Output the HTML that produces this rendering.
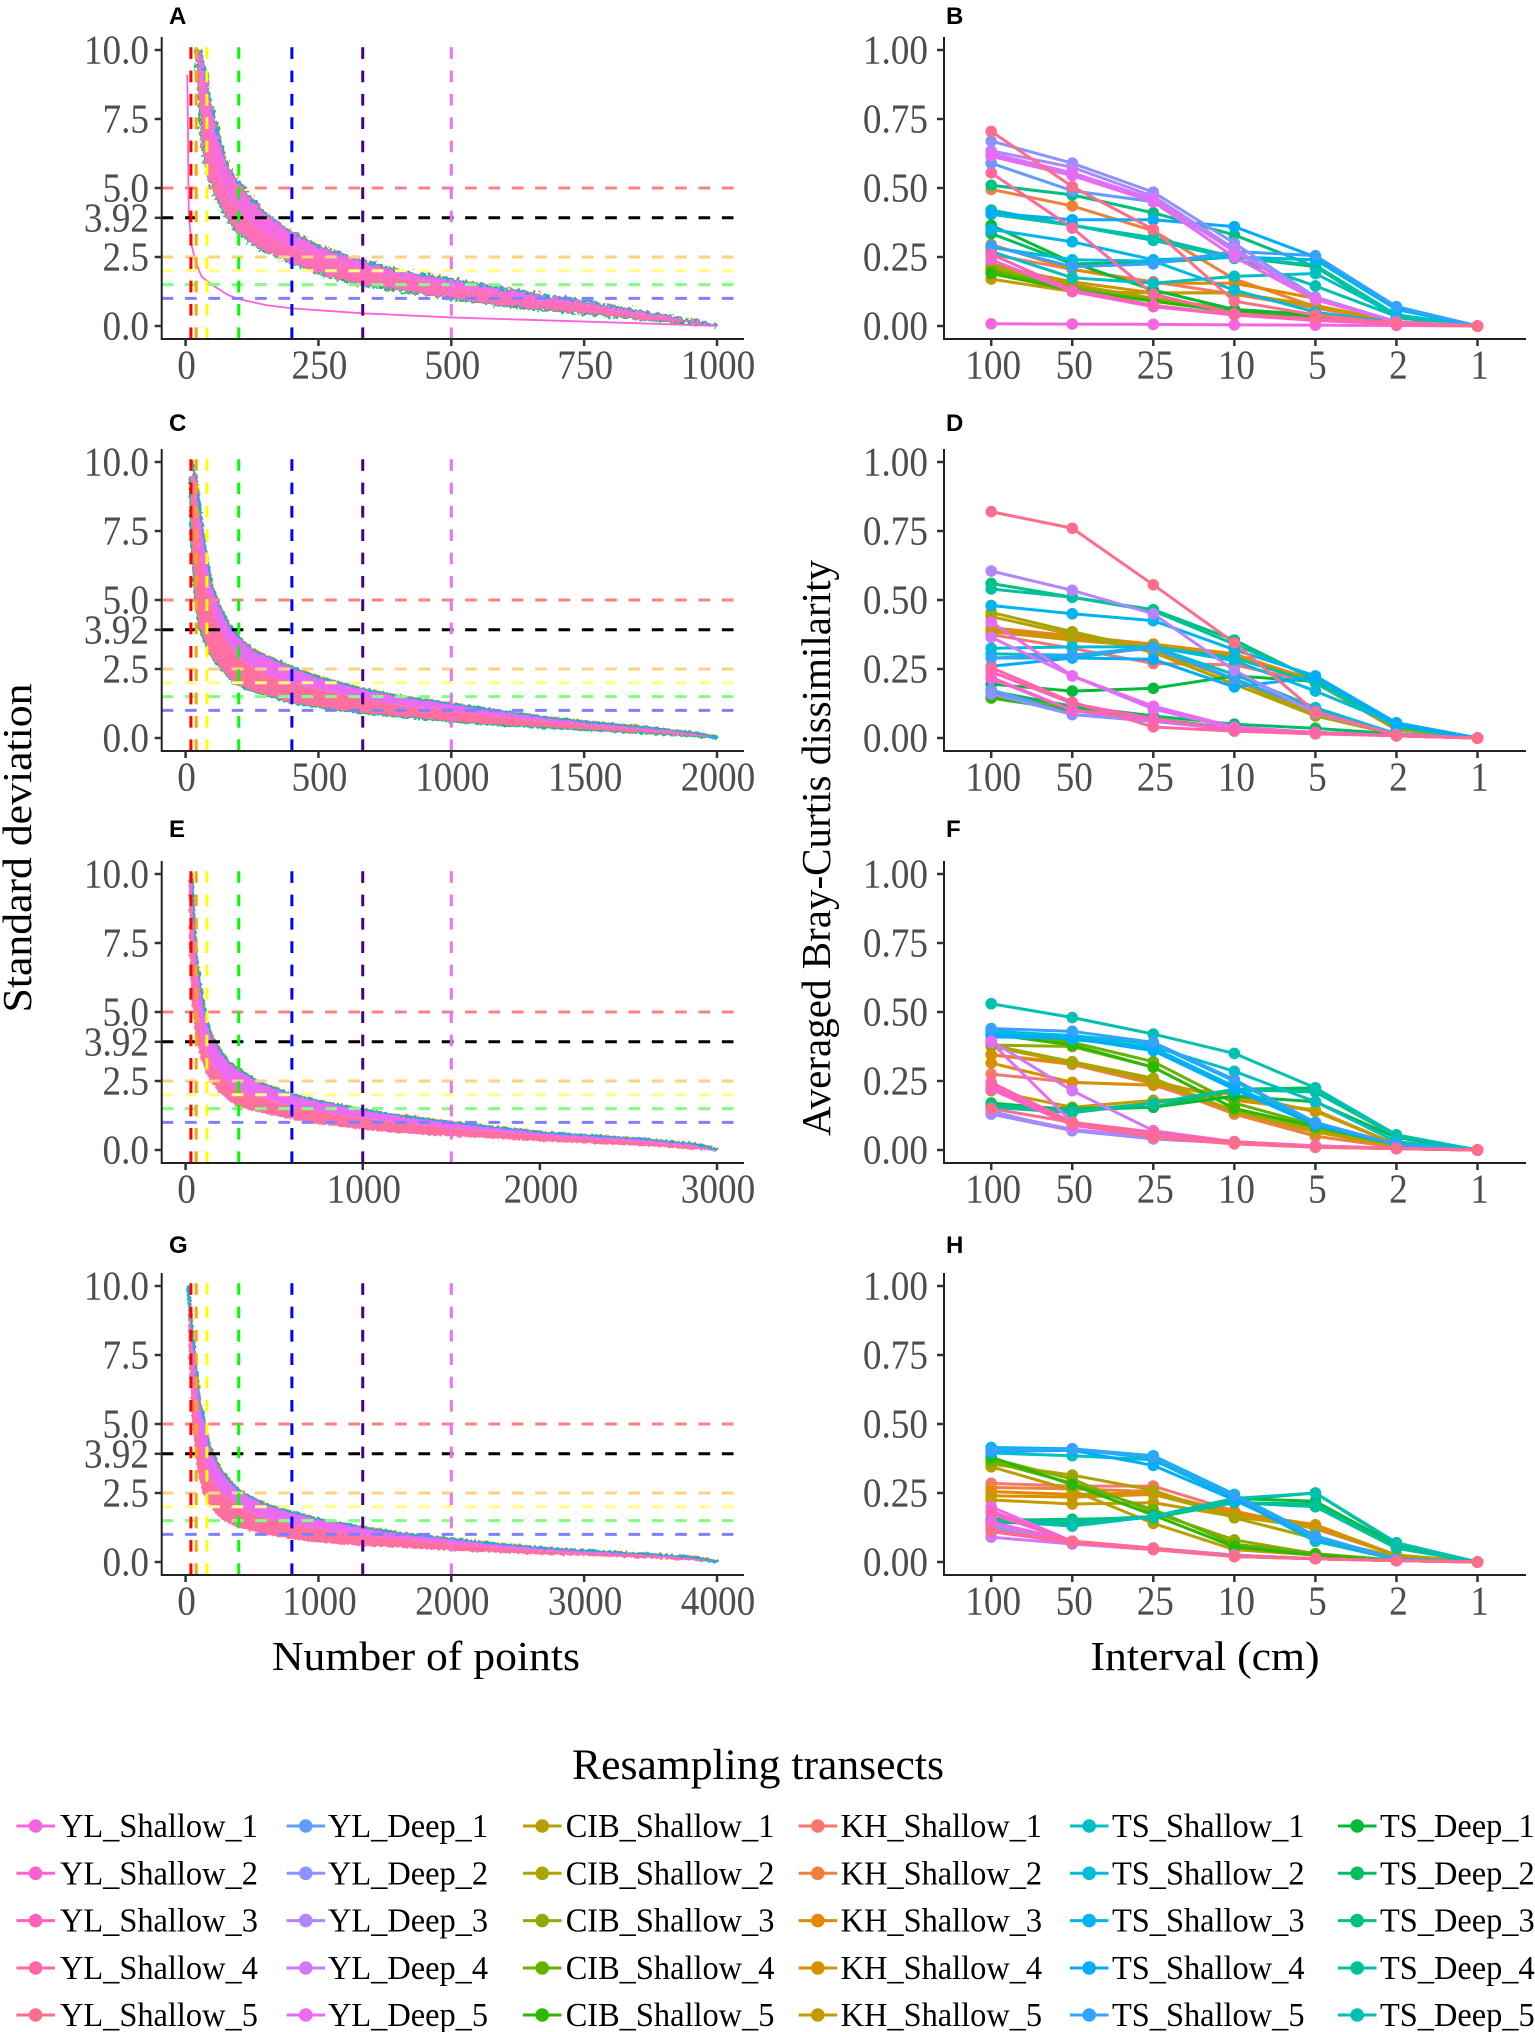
<!DOCTYPE html>
<html lang="en">
<head>
<meta charset="utf-8">
<title>Resampling transects</title>
<style>
html,body{margin:0;padding:0;background:#fff;width:1535px;height:2032px;overflow:hidden}
svg{display:block;font-family:"Liberation Serif",serif}
.panel-tag{font-family:"Liberation Sans",sans-serif;font-weight:700;font-size:24px;fill:#000}
.title{font-size:41px;fill:#000}
</style>
</head>
<body>
<svg id="figure" xmlns="http://www.w3.org/2000/svg" width="1535" height="2032" viewBox="0 0 1535 2032">
  <defs>
    <filter id="jag-strong" filterUnits="userSpaceOnUse" x="150" y="0" width="620" height="2032" color-interpolation-filters="sRGB">
      <feTurbulence type="fractalNoise" baseFrequency="0.28 0.28" numOctaves="2" seed="4" result="n"/>
      <feDisplacementMap in="SourceGraphic" in2="n" scale="9" xChannelSelector="R" yChannelSelector="G"/>
    </filter>
    <filter id="jag-soft" filterUnits="userSpaceOnUse" x="150" y="0" width="620" height="2032" color-interpolation-filters="sRGB">
      <feTurbulence type="fractalNoise" baseFrequency="0.35 0.35" numOctaves="2" seed="9" result="n"/>
      <feDisplacementMap in="SourceGraphic" in2="n" scale="4" xChannelSelector="R" yChannelSelector="G"/>
    </filter>
  </defs>
  <text class="panel-tag" x="169" y="24">A</text>
  <text class="panel-tag" x="946" y="24">B</text>
  <text class="panel-tag" x="169" y="431">C</text>
  <text class="panel-tag" x="946" y="431">D</text>
  <text class="panel-tag" x="169" y="837">E</text>
  <text class="panel-tag" x="946" y="837">F</text>
  <text class="panel-tag" x="169" y="1253">G</text>
  <text class="panel-tag" x="946" y="1253">H</text>
  <text class="title" transform="translate(31,848) rotate(-90)" text-anchor="middle" textLength="329" lengthAdjust="spacingAndGlyphs">Standard deviation</text>
  <text class="title" transform="translate(830,848) rotate(-90)" text-anchor="middle" textLength="576" lengthAdjust="spacingAndGlyphs">Averaged Bray-Curtis dissimilarity</text>
  <text class="title" x="426" y="1670" text-anchor="middle" textLength="308" lengthAdjust="spacingAndGlyphs">Number of points</text>
  <text class="title" x="1205" y="1670" text-anchor="middle" textLength="229" lengthAdjust="spacingAndGlyphs">Interval (cm)</text>
  <text x="758" y="1779" text-anchor="middle" font-size="43.5" fill="#000" textLength="372" lengthAdjust="spacingAndGlyphs">Resampling transects</text>
</svg>
<script>
// ---------- Category data ----------
const intervalLabels = ['100','50','25','10','5','2','1'];
const legendColumns = ['YL_Shallow','YL_Deep','CIB_Shallow','KH_Shallow','TS_Shallow','TS_Deep'];
const drawOrder = ['KH_Shallow','CIB_Shallow','TS_Deep','TS_Shallow','YL_Deep','YL_Shallow'];
const colorsKH = ['#F8766D','#EC8239','#E38900','#D69100','#C49A00'];
const colorsCIB = ['#B79F00','#A9A400','#8DAB00','#66B200','#2CB700'];
const colorsTSDeep = ['#00BA38','#00BD5F','#00C07F','#00C19C','#00C0B0'];
const colorsTSShallow = ['#00BFC4','#00BBDC','#00B4EF','#00ACFC','#35A2FF'];
const colorsYLDeep = ['#619CFF','#8C93FF','#B385FF','#D575FE','#EA6AF1'];
const colorsYLShallow = ['#F564E3','#FE61CF','#FF62BC','#FF67A4','#FE6E8A'];

// ---------- Reference lines ----------
const verticalDivisors = [100,50,25,10,5,3,2];
const verticalColors = ['#ff0000','#ffa500','#ffff00','#00ff00','#0000ff','#4b0082','#ee70ee'];
const horizontalSD = [5,2.5,2,1.5,1,3.92];
const horizontalColors = ['#ff8080','#ffd280','#ffff80','#80ff80','#8080ff','#000000'];
const sdTicks = [0,2.5,3.92,5,7.5,10];
const sdTickLabels = ['0.0','2.5','3.92','5.0','7.5','10.0'];
const brayTicks = [0,0.25,0.5,0.75,1];
const brayTickLabels = ['0.00','0.25','0.50','0.75','1.00'];

// ---------- Panel A ----------
const aMax = 1000;
const aTicks = [0,250,500,750,1000];
const aUpperN = [19,30,40,47,63,81,100,119,147,200,250,333,400,500,587,680,750,868,962,1000];
const aUpperSD = [10,9.8,8.73,8.07,6.74,5.65,5.17,4.69,4.08,3.36,2.87,2.33,1.97,1.67,1.36,1.06,0.88,0.46,0.16,0];
const aMidN = [25,40,60,80,100,150,200,250,333,400,500,587,680,750,868,962,1000];
const aMidSD = [9.5,7.5,5.6,4.7,4.2,3.3,2.9,2.5,2.05,1.75,1.45,1.15,0.9,0.75,0.4,0.12,0];
const aLowerN = [19,25,30,37,49,63,81,100,138,200,259,333,400,500,587,680,750,868,962,1000];
const aLowerSD = [10,8.2,6.74,5.9,5.05,4.44,3.78,3.36,2.81,2.27,1.85,1.49,1.3,1,0.76,0.58,0.46,0.22,0.06,0];
const aOutlierN = [3,4,5,6,8,12,20,30,50,80,100,150,200,333,500,750,900,1000];
const aOutlierSD = [9.1,8,5.77,4.08,3.6,2.87,2.27,1.79,1.49,1.12,0.98,0.76,0.64,0.46,0.31,0.16,0.07,0];

// ---------- Panel C ----------
const cMax = 2000;
const cTicks = [0,500,1000,1500,2000];
const cUpperN = [22,41,50,69,97,125,163,200,257,400,500,669,800,1005,1174,1361,1502,1736,1923,2000];
const cUpperSD = [10,9.24,8.39,7.07,5.5,4.77,4.05,3.62,3.14,2.54,2.17,1.75,1.49,1.21,0.97,0.72,0.57,0.36,0.16,0];
const cMidN = [30,50,80,125,200,300,400,500,669,800,1005,1174,1361,1502,1736,1923,2000];
const cMidSD = [9.5,7,5.4,3.9,2.9,2.3,2,1.78,1.4,1.2,0.97,0.78,0.6,0.47,0.29,0.12,0];
const cLowerN = [17,22,36,50,88,125,182,238,400,612,669,1005,1174,1502,1736,1923,2000];
const cLowerSD = [9.5,7.07,5.13,4.05,3.08,2.6,1.99,1.75,1.27,0.97,0.9,0.6,0.48,0.3,0.18,0.06,0];

// ---------- Panel E ----------
const eMax = 3000;
const eTicks = [0,1000,2000,3000];
const eUpperN = [34,48,62,90,118,146,188,244,300,413,601,750,1003,1199,1508,1761,2042,2253,2604,2885,3000];
const eUpperSD = [10,8,6.76,5.56,4.59,4.1,3.62,3.14,2.9,2.42,1.99,1.75,1.43,1.23,0.97,0.79,0.6,0.51,0.36,0.18,0];
const eMidN = [30,45,70,100,150,244,357,601,750,1003,1199,1508,1761,2042,2253,2604,2885,3000];
const eMidSD = [9.5,7,5,3.9,3.1,2.4,2,1.58,1.4,1.15,1,0.8,0.66,0.5,0.42,0.28,0.12,0];
const eLowerN = [25,28,42,62,90,132,188,272,357,601,750,1003,1199,1508,1761,2042,2253,2604,2885,3000];
const eLowerSD = [9.9,7.1,5.3,4.2,3.38,2.66,2.17,1.69,1.51,1.15,0.99,0.79,0.66,0.54,0.46,0.34,0.3,0.18,0.06,0];

// ---------- Panel G ----------
const gMax = 4000;
const gTicks = [0,1000,2000,3000,4000];
const gUpperN = [19,45,71,101,139,176,251,326,401,588,802,1000,1337,1600,2011,2348,2723,3004,3472,3846,4000];
const gUpperSD = [10,8.4,7.2,5.82,5.04,4.19,3.4,2.92,2.56,2.08,1.78,1.53,1.23,1.03,0.81,0.63,0.47,0.39,0.27,0.14,0];
const gMidN = [30,50,80,110,176,251,401,588,802,1000,1337,1600,2011,2348,2723,3004,3472,3846,4000];
const gMidSD = [9.5,7,5.1,4.2,3.1,2.6,2,1.62,1.38,1.2,0.98,0.85,0.66,0.52,0.39,0.32,0.22,0.11,0];
const gLowerN = [26,37,64,101,139,213,288,401,588,802,1000,1337,1600,2011,2348,2723,3004,3472,3846,4000];
const gLowerSD = [9.6,7.2,4.8,3.22,2.5,1.9,1.53,1.29,1.05,0.87,0.75,0.63,0.57,0.45,0.39,0.3,0.27,0.18,0.08,0];

// ---------- Panel B dissimilarity (rows in drawOrder, 5 per group) ----------
const panelBValues = [
[.26,.205,.16,.115,.065,.012,0],[.495,.435,.345,.17,.07,.015,0],[.295,.205,.155,.155,.10,.015,0],[.22,.16,.12,.12,.075,.015,0],[.17,.125,.12,.12,.07,.015,0],
[.225,.15,.10,.06,.04,.01,0],[.215,.145,.10,.06,.04,.01,0],[.205,.14,.095,.055,.04,.01,0],[.20,.135,.09,.055,.04,.01,0],[.19,.13,.09,.05,.035,.01,0],
[.365,.23,.13,.06,.04,.015,0],[.335,.225,.23,.25,.215,.04,0],[.51,.475,.41,.33,.215,.03,0],[.42,.365,.32,.25,.22,.04,0],[.405,.365,.31,.245,.145,.035,0],
[.27,.175,.155,.18,.19,.04,0],[.285,.24,.235,.13,.05,.012,0],[.35,.305,.24,.25,.24,.06,0],[.41,.385,.385,.36,.25,.07,0],[.29,.215,.225,.27,.255,.07,0],
[.59,.49,.45,.275,.10,.015,0],[.67,.59,.485,.30,.105,.015,0],[.635,.575,.47,.28,.10,.015,0],[.625,.555,.46,.27,.10,.015,0],[.615,.545,.45,.25,.095,.015,0],
[.008,.007,.006,.004,.003,.002,0],[.24,.125,.07,.04,.02,.008,0],[.26,.13,.075,.04,.025,.008,0],[.555,.355,.115,.045,.025,.01,0],[.705,.505,.35,.09,.04,.01,0]
];
// ---------- Panel D ----------
const panelDValues = [
[.375,.325,.27,.265,.20,.03,0],[.40,.37,.34,.30,.21,.035,0],[.395,.365,.34,.305,.205,.035,0],[.39,.36,.335,.295,.205,.03,0],[.385,.355,.33,.29,.20,.03,0],
[.44,.375,.31,.195,.08,.012,0],[.455,.385,.32,.21,.085,.012,0],[.15,.105,.07,.033,.02,.008,0],[.16,.11,.07,.035,.02,.008,0],[.145,.10,.065,.03,.02,.008,0],
[.195,.17,.18,.225,.205,.05,0],[.17,.115,.08,.05,.035,.015,0],[.56,.51,.465,.355,.21,.055,0],[.54,.51,.46,.34,.215,.05,0],[.29,.29,.33,.29,.2,.04,0],
[.305,.30,.33,.23,.11,.015,0],[.325,.33,.33,.28,.17,.05,0],[.48,.45,.425,.32,.225,.055,0],[.26,.29,.285,.185,.22,.05,0],[.29,.30,.325,.215,.10,.015,0],
[.175,.085,.065,.035,.02,.008,0],[.16,.085,.06,.03,.02,.008,0],[.605,.535,.45,.245,.09,.012,0],[.365,.225,.105,.035,.02,.008,0],[.42,.225,.115,.04,.02,.008,0],
[.215,.10,.065,.03,.018,.008,0],[.22,.10,.065,.03,.02,.008,0],[.24,.125,.07,.03,.02,.008,0],[.255,.13,.04,.025,.015,.008,0],[.82,.76,.555,.345,.095,.01,0]
];
// ---------- Panel F ----------
const panelFValues = [
[.275,.245,.235,.145,.05,.01,0],[.345,.31,.24,.13,.05,.01,0],[.345,.315,.25,.18,.145,.02,0],[.315,.245,.235,.20,.14,.02,0],[.215,.155,.18,.19,.14,.02,0],
[.375,.315,.25,.14,.065,.015,0],[.38,.32,.26,.14,.075,.02,0],[.38,.375,.30,.15,.08,.02,0],[.43,.39,.32,.17,.09,.02,0],[.42,.38,.30,.15,.085,.02,0],
[.17,.145,.155,.195,.175,.045,0],[.16,.15,.155,.22,.225,.05,0],[.165,.14,.17,.215,.215,.05,0],[.155,.135,.17,.22,.21,.05,0],[.53,.48,.42,.35,.225,.055,0],
[.435,.40,.375,.285,.175,.03,0],[.43,.415,.385,.25,.10,.02,0],[.42,.41,.37,.23,.095,.02,0],[.41,.405,.36,.22,.09,.02,0],[.44,.43,.39,.255,.10,.02,0],
[.14,.07,.045,.025,.015,.005,0],[.13,.07,.04,.025,.015,.005,0],[.135,.075,.045,.025,.012,.005,0],[.395,.215,.07,.03,.015,.006,0],[.39,.10,.06,.03,.015,.006,0],
[.24,.10,.05,.025,.012,.005,0],[.23,.095,.05,.025,.012,.005,0],[.22,.09,.05,.025,.012,.005,0],[.245,.10,.065,.03,.01,.005,0],[.15,.10,.045,.022,.01,.005,0]
];
// ---------- Panel H ----------
const panelHValues = [
[.285,.275,.275,.185,.12,.025,0],[.27,.265,.255,.17,.13,.025,0],[.255,.245,.25,.18,.135,.025,0],[.24,.235,.245,.17,.13,.025,0],[.225,.21,.215,.165,.125,.025,0],
[.345,.26,.14,.045,.025,.005,0],[.355,.315,.26,.16,.085,.02,0],[.375,.30,.18,.08,.03,.006,0],[.365,.285,.19,.065,.03,.006,0],[.38,.28,.17,.055,.025,.006,0],
[.145,.135,.165,.23,.22,.06,0],[.155,.15,.165,.225,.25,.065,0],[.15,.155,.16,.215,.21,.055,0],[.15,.145,.165,.215,.20,.05,0],[.15,.13,.165,.23,.25,.07,0],
[.395,.385,.37,.23,.075,.01,0],[.41,.41,.385,.245,.095,.01,0],[.415,.41,.375,.235,.085,.01,0],[.40,.405,.35,.225,.085,.01,0],[.405,.41,.38,.24,.09,.01,0],
[.125,.07,.05,.025,.012,.005,0],[.13,.07,.05,.025,.012,.005,0],[.135,.07,.05,.025,.012,.005,0],[.09,.065,.045,.02,.012,.005,0],[.20,.075,.05,.022,.012,.005,0],
[.145,.075,.05,.022,.012,.005,0],[.175,.075,.05,.022,.012,.005,0],[.185,.075,.05,.02,.012,.005,0],[.11,.07,.045,.02,.012,.005,0],[.115,.075,.05,.02,.012,.005,0]
];

const NS = 'http://www.w3.org/2000/svg';
const fig = document.getElementById('figure');
const groupColors = {KH_Shallow:colorsKH,CIB_Shallow:colorsCIB,TS_Deep:colorsTSDeep,TS_Shallow:colorsTSShallow,YL_Deep:colorsYLDeep,YL_Shallow:colorsYLShallow};

function make(tag, parent, attrs, text){
  const el = document.createElementNS(NS, tag);
  for (const k in attrs) el.setAttribute(k, attrs[k]);
  if (text !== undefined) el.textContent = text;
  parent.appendChild(el);
  return el;
}
function polyPoints(ns, vals, sx, sy){
  return ns.map((n,i)=>sx(n).toFixed(2)+','+sy(vals[i]).toFixed(2));
}
const TICK_FONT = 38;
const TICK_COL = '#4d4d4d';
const TICK_STRETCH = 'scale(0.98,1.08)';

function drawAxes(g, left, right, top, sx, sy, yVals, yLabs, xVals, xLabs, labelRight, xOffset){
  const bottom = top + 302;
  const ya = make('line', g, {x1:left,x2:left,y1:top,y2:bottom+1,stroke:'#222',"stroke-width":2});
  
  
  const xa = make('line', g, {x1:left,x2:right,y1:bottom,y2:bottom,stroke:'#222',"stroke-width":2});
  
  
  yVals.forEach((v,i)=>{
    const t = make('line', g, {x1:left-7,x2:left,y1:sy(v),y2:sy(v),stroke:'#333',"stroke-width":2.5});
    
    
    const l = make('text', g, {transform:'translate('+labelRight+','+(sy(v)+13.5)+') '+TICK_STRETCH,"text-anchor":'end',"font-size":TICK_FONT,fill:TICK_COL}, yLabs[i]);
    
    
  });
  xVals.forEach((v,i)=>{
    const x = sx(v);
    const t = make('line', g, {x1:x,x2:x,y1:bottom,y2:bottom+7,stroke:'#333',"stroke-width":2.5});
    
    
    const l = make('text', g, {transform:'translate('+(x+xOffset)+','+(bottom+39.5)+') '+TICK_STRETCH,"text-anchor":'middle',"font-size":TICK_FONT,fill:TICK_COL}, xLabs[i]);
    
    
  });
}

function drawSdPanel(name, top, maxN, ticks, upN, upV, midN, midV, loN, loV, opts){
  const g = make('g', fig, {});
  
  
  const sx = v => 185.6 + v / maxN * 531.4;
  const sy = v => top + 289 - v * 27.6;
  const left = 161.7, right = 744, bottom = top + 302;

  const band = make('g', g, {filter:'url(#' + opts.filter + ')'});
  
  
  const up = polyPoints(upN, upV, sx, sy);
  const mid = polyPoints(midN, midV, sx, sy);
  const lo = polyPoints(loN, loV, sx, sy);
  const orangeEdge = make('polyline', band, {points:up.join(' '),fill:'none',stroke:'#de8c00',"stroke-width":2,transform:'translate(1,-1)'});
  
  
  const lowEdge = make('polyline', band, {points:lo.join(' '),fill:'none',stroke:opts.lowerStroke,"stroke-width":2.5});
  
  
  const upEdge = make('polyline', band, {points:up.join(' '),fill:'none',stroke:'#00b4ef',"stroke-width":3});
  
  
  const upperFill = make('polygon', band, {points:up.concat(mid.slice().reverse()).join(' '),fill:opts.upperFill});
  
  
  const lowerFill = make('polygon', band, {points:mid.concat(lo.slice().reverse()).join(' '),fill:opts.lowerFill});
  
  

  if (opts.outlierN){
    const o = make('polyline', g, {points:polyPoints(opts.outlierN, opts.outlierSD, sx, sy).join(' '),fill:'none',stroke:'#fb62da',"stroke-width":1.8});
    
    
  }

  horizontalSD.forEach((v,i)=>{
    const h = make('line', g, {x1:left,x2:right,y1:sy(v),y2:sy(v),stroke:horizontalColors[i],"stroke-width":3,"stroke-dasharray":'11.67 11.67'});
    
    
  });
  verticalDivisors.forEach((d,i)=>{
    const x = sx(maxN / d);
    const v = make('line', g, {x1:x,x2:x,y1:bottom,y2:top,stroke:verticalColors[i],"stroke-width":3,"stroke-dasharray":'11.67 11.67'});
    
    
  });
  drawAxes(g, left, right, top, sx, sy, sdTicks, sdTickLabels, ticks, ticks.map(String), 149, 1);
}

function drawBrayPanel(name, top, values){
  const g = make('g', fig, {});
  
  
  const sx = i => 991.2 + i * 81.05;
  const sy = v => top + 289 - v * 276;
  const flat = [];
  drawOrder.forEach(gr => groupColors[gr].forEach(c => flat.push(c)));
  values.forEach((row,s)=>{
    const pts = row.map((v,i)=>sx(i).toFixed(2)+','+sy(v).toFixed(2)).join(' ');
    const l = make('polyline', g, {points:pts,fill:'none',stroke:flat[s],"stroke-width":3,"stroke-linejoin":'round'});
    
    
  });
  values.forEach((row,s)=>{
    row.forEach((v,i)=>{
      const c = make('circle', g, {cx:sx(i),cy:sy(v),r:5.8,fill:flat[s]});
      
      
    });
  });
  drawAxes(g, 944, 1526, top, sx, sy, brayTicks, brayTickLabels, intervalLabels.map((_,i)=>i), intervalLabels, 928, 2);
}

drawSdPanel('a', 37, aMax, aTicks, aUpperN, aUpperSD, aMidN, aMidSD, aLowerN, aLowerSD,
  {filter:'jag-strong',upperFill:'#f56be0',lowerFill:'#ff6fb8',lowerStroke:'#00bd6a',outlierN:aOutlierN,outlierSD:aOutlierSD});
drawSdPanel('c', 449, cMax, cTicks, cUpperN, cUpperSD, cMidN, cMidSD, cLowerN, cLowerSD,
  {filter:'jag-soft',upperFill:'#ea6af1',lowerFill:'#ff6fa0',lowerStroke:'#00c08a'});
drawSdPanel('e', 861, eMax, eTicks, eUpperN, eUpperSD, eMidN, eMidSD, eLowerN, eLowerSD,
  {filter:'jag-soft',upperFill:'#ea6af1',lowerFill:'#ff6fa0',lowerStroke:'#ff6fa0'});
drawSdPanel('g', 1273, gMax, gTicks, gUpperN, gUpperSD, gMidN, gMidSD, gLowerN, gLowerSD,
  {filter:'jag-soft',upperFill:'#ea6af1',lowerFill:'#ff6fa0',lowerStroke:'#ff6fa0'});

drawBrayPanel('b', 37, panelBValues);
drawBrayPanel('d', 449, panelDValues);
drawBrayPanel('f', 861, panelFValues);
drawBrayPanel('h', 1273, panelHValues);

// ---------- Legend ----------
const legendKeyLeft = [16.4,286.6,523,798.6,1070,1338];
const legendTextLeft = [60,328,565.7,840.6,1112,1380];
const legendRowY = [1826,1873.3,1920.6,1968,2015];
const legend = make('g', fig, {});


legendColumns.forEach((gr,c)=>{
  legendRowY.forEach((y,r)=>{
    const color = groupColors[gr][r];
    const entry = make('g', legend, {});
    
    
    const kl = make('line', entry, {x1:legendKeyLeft[c],x2:legendKeyLeft[c]+38.5,y1:y,y2:y,stroke:color,"stroke-width":3});
    
    
    const kp = make('circle', entry, {cx:legendKeyLeft[c]+19.2,cy:y,r:6.8,fill:color});
    
    
    const tx = make('text', entry, {transform:'translate('+legendTextLeft[c]+','+(y+11)+') scale(1,1.05)',"font-size":32.4,fill:'#000'}, gr + '_' + (r+1));
    
    
  });
});
</script>
</body>
</html>
